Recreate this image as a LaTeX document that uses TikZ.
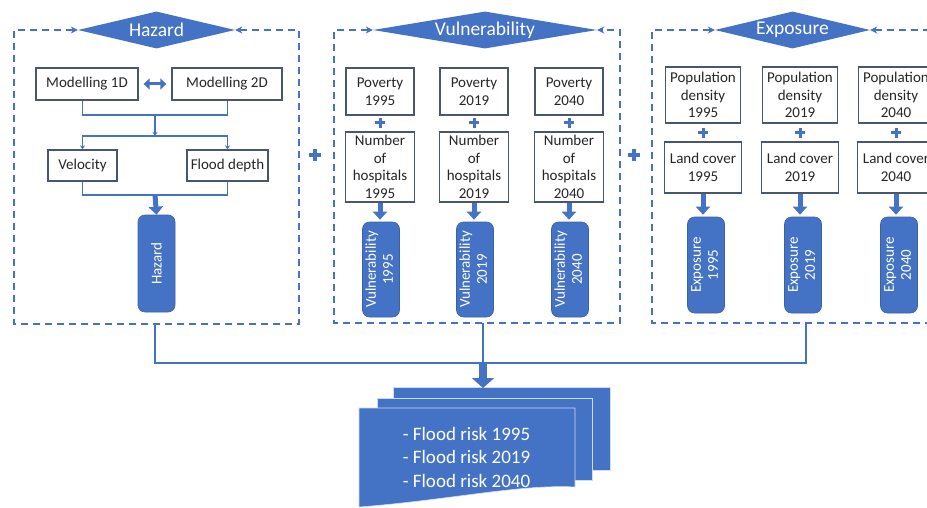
\documentclass[tikz,border=0pt]{standalone}
\usepackage{fontspec}
\setmainfont{Carlito}
\usepackage{graphicx}
\usetikzlibrary{arrows.meta,shapes.geometric,calc}
\definecolor{ob}{HTML}{4472C4}
\definecolor{bx}{HTML}{4A5570}
\begin{document}
\begin{tikzpicture}[x=1pt,y=-1pt,
  box/.style={draw=bx, line width=1.3pt, fill=white, align=center, inner sep=0pt,
    font=\fontsize{15}{17.5}\selectfont, text=black!85},
  blk/.style={fill=ob, draw=ob!85!black, line width=0.6pt, rounded corners=7pt,
    minimum width=37pt, inner sep=0pt, text=white, align=center,
    font=\fontsize{15}{17}\selectfont},
  dia/.style={diamond, fill=ob, inner sep=0pt, minimum height=37pt, text=white,
    font=\fontsize{19.5}{21}\selectfont},
  panel/.style={draw=ob, line width=1.8pt, dash pattern=on 7pt off 5pt},
  tipin/.style={{Stealth[length=7pt,width=7pt]}-},
  tipboth/.style={{Stealth[length=7pt,width=7pt]}-{Stealth[length=7pt,width=7pt]}},
  conn/.style={draw=ob, line width=1.3pt},
  small/.style={-{Stealth[length=4pt,width=5pt]}},
  fat/.style={draw=ob, line width=5pt, -{Triangle[length=8pt,width=14pt]}},
  pl/.style={draw=ob, line width=3pt},
  bigpl/.style={draw=ob, line width=4.5pt},
  sheet/.style={fill=ob, draw=white!75!ob, line width=0.6pt, inner sep=0pt}]
\useasboundingbox (0,0) rectangle (927,508);
\clip (0,0) rectangle (927,508);

% ---------------- Hazard ----------------
\node[dia, aspect=4.2, minimum width=157pt] (HzD) at (156.5,30) {Hazard};
\draw[panel, tipboth] (HzD.west) -| (14,324) -| (299,30) -- (HzD.east);
\node[box, minimum width=102pt, minimum height=32pt] (M1) at (87,84) {Modelling 1D};
\node[box, minimum width=110pt, minimum height=32pt] (M2) at (227,84) {Modelling 2D};
\draw[ob, line width=3pt, {Triangle[length=6pt,width=11pt]}-{Triangle[length=6pt,width=11pt]}]
  ([xshift=5pt]M1.east) -- ([xshift=-5pt]M2.west);
\node[box, minimum width=69pt, minimum height=31pt] (V) at (82.5,165.5) {Velocity};
\node[box, minimum width=81pt, minimum height=31pt] (F) at (227.5,165.5) {Flood depth};
\coordinate (j1) at (155,115);
\coordinate (j2) at (155,136);
\coordinate (j3) at (155,195);
\draw[conn] (V |- M1.south) |- (j1) -| (F |- M2.south);
\draw[conn, small] (j1) -- (j2);
\draw[conn, small] (j2) -| (V.north);
\draw[conn, small] (j2) -| (F.north);
\draw[conn] (V.south) |- (j3) -| (F.south);
\node[blk, minimum height=97pt] (Hz) at (156.5,263.5) {\rotatebox{90}{Hazard}};
\draw[fat] (j3) -- (Hz.north);

\draw[bigpl] (309,155) -- (321,155) (315,149) -- (315,161);

% ---------------- Vulnerability ----------------
\node[dia, aspect=6.05, minimum width=224pt] (VuD) at (485,30) {Vulnerability};
\draw[panel, tipboth] (VuD.west) -| (334,323) -| (620,30) -- (VuD.east);
\foreach \cx/\yr in {380/1995, 474/2019, 569/2040}{
  \node[box, minimum width=68pt, minimum height=47pt] (P\yr) at (\cx,91.5) {Poverty\\\yr};
  \node[box, minimum width=69pt, minimum height=70pt] (N\yr) at (\cx,167) {Number\\of\\hospitals\\\yr};
  \draw[pl] (\cx-5,123) -- (\cx+5,123) (\cx,118) -- (\cx,128);
  \node[blk, minimum height=95pt] (Vu\yr) at (\cx+1,269.5)
    {\rotatebox{90}{\begin{tabular}{@{}c@{}}Vulnerability\\\yr\end{tabular}}};
  \draw[fat, shorten >=2pt] (N\yr.south) -- (N\yr.south |- Vu\yr.north);
}

\draw[bigpl] (628,155) -- (640,155) (634,149) -- (634,161);

% ---------------- Exposure ----------------
\node[dia, aspect=4.2, minimum width=155pt] (ExD) at (792.5,30) {Exposure};
\draw[panel, tipin] (ExD.west) -| (652,323) -- (940,323);
\draw[panel, tipin] (ExD.east) -- (940,30);
\foreach \cx/\yr in {703/1995, 800/2019, 896/2040}{
  \node[box, minimum width=75pt, minimum height=56pt] (D\yr) at (\cx,95) {Population\\density\\\yr};
  \node[box, minimum width=77pt, minimum height=51pt] (L\yr) at (\cx,167.5) {Land cover\\\yr};
  \draw[pl] (\cx-5,133) -- (\cx+5,133) (\cx,128) -- (\cx,138);
  \node[blk, minimum height=96pt] (Ex\yr) at (\cx+3,265)
    {\rotatebox{90}{\begin{tabular}{@{}c@{}}Exposure\\\yr\end{tabular}}};
  \draw[fat, shorten >=2pt] (L\yr.south) -- (L\yr.south |- Ex\yr.north);
}

% ---------------- Flood risk ----------------
\coordinate (hb) at (155,324);
\coordinate (vb) at (483,323);
\coordinate (eb) at (806,323);
\coordinate (jb) at (483,363);
\draw[conn] (hb) |- (jb) -| (eb);
\draw[conn] (vb) -- (jb);
\node[sheet, anchor=north west, minimum width=217pt, minimum height=83pt] (S3) at (393,387) {};
\node[sheet, anchor=north west, minimum width=215pt, minimum height=82pt] (S2) at (377,398) {};
\filldraw[fill=ob, draw=white!75!ob, line width=0.6pt]
  (359,408) -- (575,408) -- (575,487) .. controls (520,484) and (450,500) .. (359,507) -- cycle;
\draw[ob, line width=8pt, -{Triangle[length=10pt,width=22pt]}] (jb) -- ([yshift=-1pt]jb |- S3.north);
\node[text=white, align=left, font=\fontsize{19}{23.5}\selectfont] (FR) at (466.5,457)
  {- Flood risk 1995\\- Flood risk 2019\\- Flood risk 2040};
\end{tikzpicture}
\end{document}
